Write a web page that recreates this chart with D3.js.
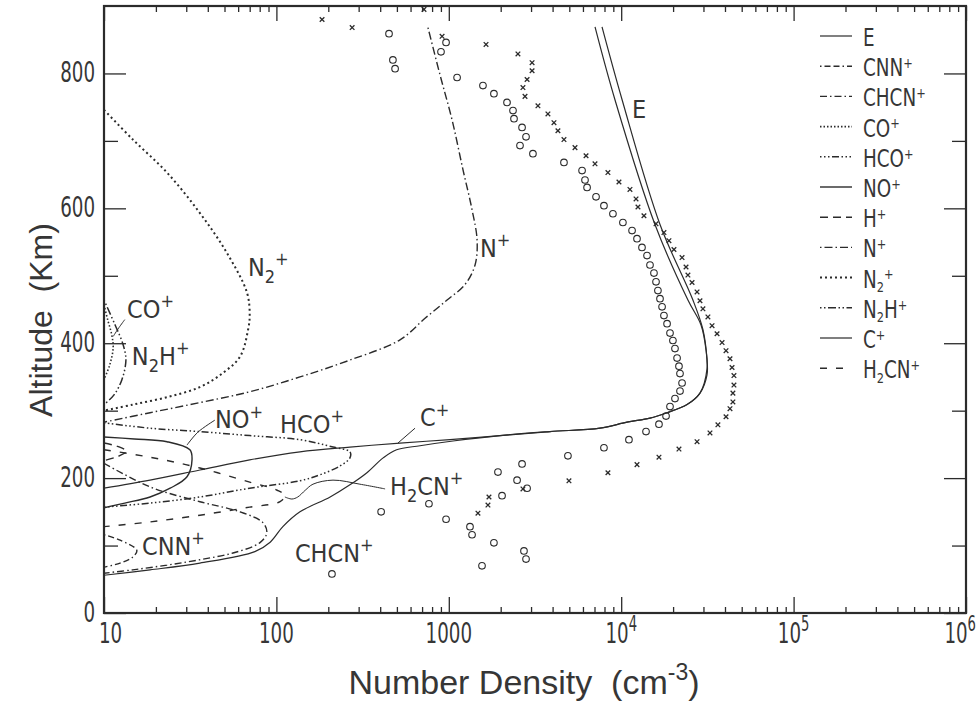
<!DOCTYPE html>
<html><head><meta charset="utf-8">
<script src="https://cdn.jsdelivr.net/npm/d3@7"></script>
<style>
body{margin:0;background:#fff;}
svg text{font-family:'Liberation Sans Narrow','DejaVu Sans Condensed','Liberation Sans',sans-serif;fill:#363636;white-space:pre;}
svg text.title{font-family:'Liberation Sans','Arial',sans-serif;}
</style></head><body>
<svg id="chart" width="979" height="710"></svg>
<script>
// Model ion profiles: [number density (cm^-3), altitude (km)]
const E_prof     = [[7740,869],[10120,761],[16790,576],[26060,464],[29800,420],[31460,375],[31460,353],[28640,326],[24100,309],[18450,297],[14690,289],[10800,283],[7530,274],[3865,269],[1982,263],[1016,257],[521,252],[267,246],[137,239],[70,227],[36,212],[18.5,197],[10,185]];
const Cp_prof    = [[7050,869],[9200,761],[15700,576],[24380,464],[29040,427],[31050,390],[31460,362],[28640,326],[24100,309],[18450,297],[14690,289],[10800,283],[7530,274],[3865,269],[1982,263],[1057,255],[681,248],[498,242],[416,230],[335,208],[267,190],[205,172],[137,150],[109,128],[92,105],[75,91],[36,74],[18.5,64],[10,56]];
const CNNp_prof  = [[10,116],[12.4,108],[15.5,93],[14.7,83],[12.4,74],[10,68]];
const CHCNp_prof = [[10,222],[18.5,187],[36,165],[61.5,150],[83.5,134],[88,119],[80,104],[56,89],[36,79],[23.2,71],[14.7,64],[10,59]];
const COp_prof   = [[10,457],[10.5,435],[11.1,412],[11.3,393],[10.8,368],[10,346]];
const HCOp_prof  = [[10,282],[18.5,274],[36,269],[70,263],[137,257],[213,246],[267,239],[267,230],[234,218],[179,205],[137,196],[70,185],[36,172],[18.5,163],[10,157]];
const NOp_prof   = [[10,261],[15,258],[23.2,254],[31.5,242],[32.4,227],[30.3,202],[24.2,185],[18.5,172],[13.2,163],[10,156]];
const Hp_prof    = [[10,252],[12,247],[13.5,240],[12,232],[10,226]];
const Np_prof    = [[757,868],[889,798],[1045,731],[1209,657],[1364,598],[1459,553],[1420,516],[1241,487],[977,464],[728,437],[521,405],[267,375],[137,350],[70,328],[36,312],[18.5,297],[10,283]];
const N2p_prof   = [[10,746],[14.7,702],[23.2,653],[36,593],[51.6,534],[67.5,475],[70,442],[68.5,420],[61.5,380],[49,356],[36,335],[23.2,320],[14.7,309],[10,300]];
const N2Hp_prof  = [[10,464],[11.6,427],[12.9,398],[13.4,375],[12.7,346],[11.4,323],[10,309]];
const H2CNp_prof = [[10,242],[18.5,231],[36,215],[70,194],[101,182],[112,174],[105,165],[70,157],[36,145],[18.5,135],[10,128]];

// Measured densities
const obsCircles = [[450,859],[474,820],[488,807],[964,846],[901,832],[1117,794],[1578,782],[1827,770],[2176,757],[2357,745],[2389,733],[2660,720],[2805,706],[2588,693],[3076,681],[4656,668],[5929,656],[6166,642],[6339,631],[7145,617],[7943,604],[8954,592],[10230,579],[11560,567],[12350,555],[13200,542],[14120,530],[14690,516],[15490,504],[15920,491],[16330,478],[16790,466],[17260,454],[17700,441],[18450,429],[19190,415],[19950,404],[20510,392],[21090,378],[21630,366],[21930,355],[22540,341],[21930,329],[20510,318],[19190,306],[18200,292],[16560,280],[13930,269],[11090,257],[7943,245],[4909,233],[2660,221],[1928,209],[2489,197],[2845,185],[2036,174],[767,162],[405,150],[964,139],[1327,128],[1364,116],[1827,104],[2729,92],[2805,80],[1558,70],[210,58]];
const obsCrosses = [[184,880],[275,868],[718,895],[914,855],[1644,843],[2518,829],[3041,816],[3041,804],[2845,791],[2692,779],[2767,766],[3289,752],[3758,740],[4074,727],[4295,715],[4656,702],[5395,690],[6252,678],[7047,666],[8375,653],[9705,639],[11240,628],[12190,614],[12510,602],[13550,589],[15920,577],[17700,564],[18920,552],[20230,539],[22540,527],[23770,513],[24380,501],[25760,490],[27540,476],[28640,463],[29790,451],[31840,439],[33650,426],[35970,414],[38460,401],[40550,389],[42760,377],[43950,364],[45080,352],[45080,338],[44460,326],[44460,313],[42760,303],[40550,291],[36390,279],[32730,267],[27540,254],[21630,243],[16560,231],[12350,220],[8375,208],[4977,196],[2692,184],[1710,172],[1687,160],[1476,148]];

// Axis ticks
const xMajor = [10,100,1000,1e4,1e5,1e6];
const xTickText = [["10"],["100"],["1000"],["10","4"],["10","5"],["10","6"]];
const yMajor = [0,200,400,600,800];
const yMinor = [100,300,500,700];

// Legend order and profile lookup
const ionKeys = ["E","CNN+","CHCN+","CO+","HCO+","NO+","H+","N+","N2+","N2H+","C+","H2CN+"];
const ionProfiles = {"E":E_prof,"CNN+":CNNp_prof,"CHCN+":CHCNp_prof,"CO+":COp_prof,"HCO+":HCOp_prof,"NO+":NOp_prof,"H+":Hp_prof,"N+":Np_prof,"N2+":N2p_prof,"N2H+":N2Hp_prof,"C+":Cp_prof,"H2CN+":H2CNp_prof};
const ionText = {
  "E":[["E"]], "CNN+":[["CNN"],["+","sup"]], "CHCN+":[["CHCN"],["+","sup"]], "CO+":[["CO"],["+","sup"]],
  "HCO+":[["HCO"],["+","sup"]], "NO+":[["NO"],["+","sup"]], "H+":[["H"],["+","sup"]], "N+":[["N"],["+","sup"]],
  "N2+":[["N"],["2","sub"],["+","sup"]], "N2H+":[["N"],["2","sub"],["H"],["+","sup"]], "C+":[["C"],["+","sup"]],
  "H2CN+":[["H"],["2","sub"],["CN"],["+","sup"]]
};

// In-plot labels: anchor [density, altitude]
const inLabels = [["E",[11560,734]],["N+",[1517,528]],["N2+",[68.4,500]],["CO+",[13.6,438]],["N2H+",[14.5,368]],["NO+",[44,274]],["HCO+",[105,267]],["C+",[681,277]],["H2CN+",[456,175]],["CNN+",[16.6,86]],["CHCN+",[128,76]]];
// Leader lines
const leaders = [
  [[11.3,410],[12.2,423],[13.2,435]],
  [[30.3,249],[35,268],[44,286]],
  [[507,252],[637,274]],
  [[112,172],[123,169],[133,172],[147,182],[163,191],[213,197],[305,191],[427,184]]
];

// Line styles
const lineStyle = {
  "E":{dash:null,w:1.2}, "CNN+":{dash:"1.5,3,6,3,6,3",w:1.4}, "CHCN+":{dash:"7,3,1.5,3",w:1.4},
  "CO+":{dash:"1.5,2",w:1.6}, "HCO+":{dash:"1.5,2.5,1.5,2.5,1.5,2.5,7,2.5",w:1.5}, "NO+":{dash:null,w:1.4},
  "H+":{dash:"8,5",w:1.4}, "N+":{dash:"1.5,3,8,3",w:1.4}, "N2+":{dash:"2,3",w:2},
  "N2H+":{dash:"1.5,2.5,1.5,2.5,8,2.5",w:1.5}, "C+":{dash:null,w:1.2}, "H2CN+":{dash:"7,9",w:1.4}
};
const ink = "#2b2b2b";

const svg = d3.select("#chart");
const X0=104, X1=966, Y0=613, Y1=6;
const x = d3.scaleLog().domain([10,1e6]).range([X0,X1]);
const y = d3.scaleLinear().domain([0,900]).range([Y0,Y1]);

function rich(g, parts, size, supK=0.42, subK=0.3, small=0.72){
  const t = g.append("text").attr("font-size", size);
  let off = 0;
  parts.forEach(([s,k])=>{
    const target = k==="sup" ? -supK*size : k==="sub" ? subK*size : 0;
    t.append("tspan").attr("dy", target-off).attr("font-size", k ? size*small : size).text(s);
    off = target;
  });
  return t;
}

svg.append("defs").append("clipPath").attr("id","plotClip")
  .append("rect").attr("x",X0).attr("y",Y1).attr("width",X1-X0).attr("height",Y0-Y1);

// ticks
const minorX = [];
for (let d=10; d<1e6; d*=10) for (let k=2;k<10;k++) minorX.push(k*d);
function tickAxis(gen, vals, size, tr){
  const g = svg.append("g").attr("transform", tr).call(gen.tickValues(vals).tickSize(size).tickFormat(""));
  g.select(".domain").remove();
  g.selectAll("line").attr("stroke", ink).attr("stroke-width", 1.3);
}
tickAxis(d3.axisBottom(x), xMajor, -16, `translate(0,${Y0})`);
tickAxis(d3.axisBottom(x), minorX, -6, `translate(0,${Y0})`);
tickAxis(d3.axisTop(x), xMajor, -15, `translate(0,${Y1})`);
tickAxis(d3.axisTop(x), minorX, -6, `translate(0,${Y1})`);
tickAxis(d3.axisLeft(y), yMajor, -22, `translate(${X0},0)`);
tickAxis(d3.axisLeft(y), yMinor, -14, `translate(${X0},0)`);
tickAxis(d3.axisRight(y), yMajor, -22, `translate(${X1},0)`);
tickAxis(d3.axisRight(y), yMinor, -14, `translate(${X1},0)`);

// frame
svg.append("rect").attr("x",X0).attr("y",Y1).attr("width",X1-X0).attr("height",Y0-Y1)
  .attr("fill","none").attr("stroke",ink).attr("stroke-width",2.2);

// tick labels (kept inside [99, 976] horizontally)
xMajor.forEach((v,i)=>{
  const sx = 0.7;
  const g = svg.append("g");
  const parts = xTickText[i].length>1 ? [[xTickText[i][0]],[xTickText[i][1],"sup"]] : [[xTickText[i][0]]];
  const t = rich(g, parts, 29).attr("text-anchor","middle");
  const bb = t.node().getBBox();
  let cx = x(v);
  const left = cx + bb.x*sx, right = cx + (bb.x+bb.width)*sx;
  if (left < 99) cx += 99-left;
  if (right > 976) cx -= right-976;
  g.attr("transform",`translate(${cx},643) scale(${sx},1)`);
});
yMajor.forEach(v=>{
  svg.append("g").attr("transform",`translate(95,${y(v)+9}) scale(0.7,1)`)
    .append("text").attr("font-size",29).attr("text-anchor","end").text(String(v));
});

// axis titles
const xt = svg.append("text").attr("class","title").attr("x",524).attr("y",694).attr("font-size",34).attr("text-anchor","middle");
xt.append("tspan").text("Number Density  (cm");
xt.append("tspan").attr("dy",-14).attr("font-size",23).text("-3");
xt.append("tspan").attr("dy",14).text(")");
svg.append("text").attr("class","title").attr("transform","translate(52,320) rotate(-90)")
  .attr("font-size",32).attr("text-anchor","middle").text("Altitude  (Km)");

// profiles
const line = d3.line().x(d=>x(d[0])).y(d=>y(d[1])).curve(d3.curveCatmullRom.alpha(0.5));
const plot = svg.append("g").attr("clip-path","url(#plotClip)");
ionKeys.forEach(k=>{
  const s = lineStyle[k];
  plot.append("path").datum(ionProfiles[k]).attr("d",line)
    .attr("fill","none").attr("stroke",ink).attr("stroke-width",s.w)
    .attr("stroke-dasharray",s.dash).attr("stroke-linejoin","round");
});
leaders.forEach(p=>{
  plot.append("path").datum(p).attr("d",line).attr("fill","none").attr("stroke",ink).attr("stroke-width",1);
});

// observations
plot.selectAll("circle.obs").data(obsCircles).join("circle").attr("class","obs")
  .attr("cx",d=>x(d[0])).attr("cy",d=>y(d[1])).attr("r",3.3)
  .attr("fill","none").attr("stroke",ink).attr("stroke-width",1.1);
plot.selectAll("path.cross").data(obsCrosses).join("path").attr("class","cross")
  .attr("d",d=>{const cx=x(d[0]),cy=y(d[1]),r=2.3;return `M${cx-r},${cy-r}L${cx+r},${cy+r}M${cx-r},${cy+r}L${cx+r},${cy-r}`;})
  .attr("stroke",ink).attr("stroke-width",1.3);

// in-plot labels
inLabels.forEach(([k,pos])=>{
  const g = svg.append("g").attr("transform",`translate(${x(pos[0])},${y(pos[1])})`);
  rich(g, ionText[k], 25);
});

// legend
const leg = svg.append("g");
ionKeys.forEach((k,i)=>{
  const ly = 36 + 30.2*i;
  const s = lineStyle[k];
  leg.append("line").attr("x1",820).attr("x2",852).attr("y1",ly).attr("y2",ly)
    .attr("stroke",ink).attr("stroke-width",s.w).attr("stroke-dasharray",s.dash);
  const g = leg.append("g").attr("transform",`translate(863,${ly+10}) scale(0.85,1)`);
  rich(g, ionText[k], 24, 0.34, 0.18, 0.62);
});
</script>
</body></html>
